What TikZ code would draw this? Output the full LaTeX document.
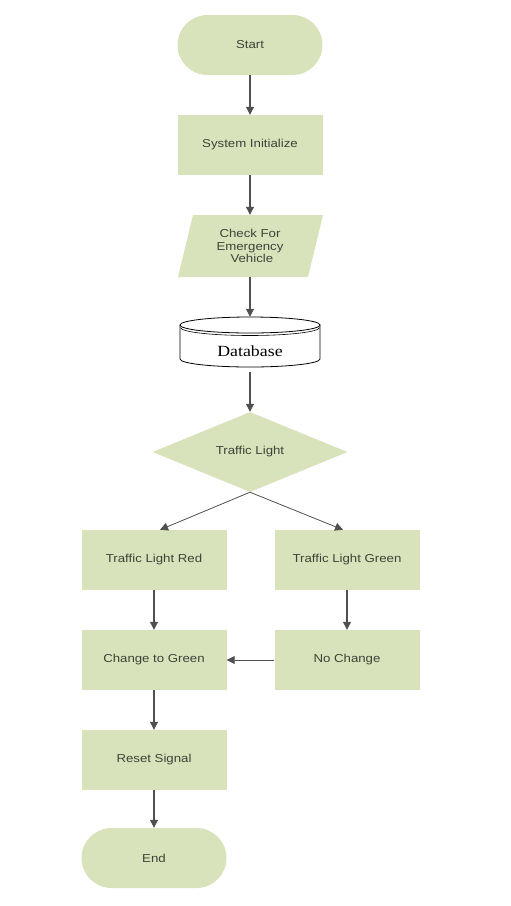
\documentclass[tikz,border=0pt]{standalone}
\usepackage{fontspec}
\setmainfont{Liberation Sans}
\newfontfamily\boxfont[FakeStretch=1.15]{Liberation Sans}
\newfontfamily\dbfont[FakeStretch=1.15]{Liberation Serif}
\usetikzlibrary{shapes.geometric,arrows.meta}
\definecolor{boxgreen}{RGB}{217,227,187}
\definecolor{txt}{RGB}{62,66,56}
\definecolor{arr}{RGB}{80,80,80}
\begin{document}
\begin{tikzpicture}[x=1pt,y=-1pt,
  proc/.style={rectangle, fill=boxgreen, minimum width=145pt, minimum height=60pt,
    inner sep=0pt, text=txt, font=\boxfont\fontsize{11.5}{12.5}\selectfont, align=center},
  term/.style={proc, rounded corners=30pt},
  dec/.style={diamond, fill=boxgreen, minimum width=195pt, minimum height=80pt,
    inner sep=0pt, text=txt, font=\boxfont\fontsize{11.5}{12.5}\selectfont},
  plain/.style={inner sep=0pt, text=txt, font=\boxfont\fontsize{11.5}{12.5}\selectfont, align=center},
  conn/.style={draw=arr, line width=1.1pt, -{Triangle[length=8pt,width=8pt]}}
]
\useasboundingbox[fill=white] (0,0) rectangle (511,906);

\node[term] (start) at (250,45) {Start};
\node[proc] (init) at (250,145) {System Initialize};

% parallelogram
\fill[boxgreen] (178,277) -- (193,215) -- (323,215) -- (308,277) -- cycle;
\node[plain, minimum width=130pt, minimum height=62pt] (check) at (250,246) {Check For\\Emergency\\\ Vehicle};

% database cylinder
\node[inner sep=0pt, minimum width=141pt, minimum height=55pt] (db) at (250,344.5) {};
\draw[black, line width=0.8pt, fill=white] (180,325) -- (180,359) arc[start angle=180, end angle=0, x radius=70, y radius=8] -- (320,325);
\draw[black, line width=0.8pt, fill=white] (250,325) ellipse[x radius=70, y radius=8];
\draw[black, line width=0.6pt] (180.5,327.5) arc[start angle=180, end angle=0, x radius=69.5, y radius=8];
\node[inner sep=0pt, font=\dbfont\fontsize{15.5}{17}\selectfont] (dblabel) at (250,351) {Database};

\node[dec] (tl) at (250,452) {Traffic Light};

\node[proc] (red) at (154,560) {Traffic Light Red};
\node[proc] (green) at (347,560) {Traffic Light Green};
\node[proc] (chg) at (154,660) {Change to Green};
\node[proc] (noch) at (347,660) {No Change};
\node[proc] (reset) at (154,760) {Reset Signal};
\node[term] (end) at (154,858) {End};

\draw[conn] (start) -- (init);
\draw[conn] (init) -- (check);
\draw[conn] (check) -- (db);
\draw[conn] (db) -- (tl);
\draw[conn, line width=0.8pt] (tl.south) -- ([xshift=6pt]red.north);
\draw[conn, line width=0.8pt] (tl.south) -- ([xshift=-4pt]green.north);
\draw[conn] (red) -- (chg);
\draw[conn] (green) -- (noch);
\draw[conn, line width=0.8pt] (noch) -- (chg);
\draw[conn] (chg) -- (reset);
\draw[conn] (reset) -- (end);
\end{tikzpicture}
\end{document}
